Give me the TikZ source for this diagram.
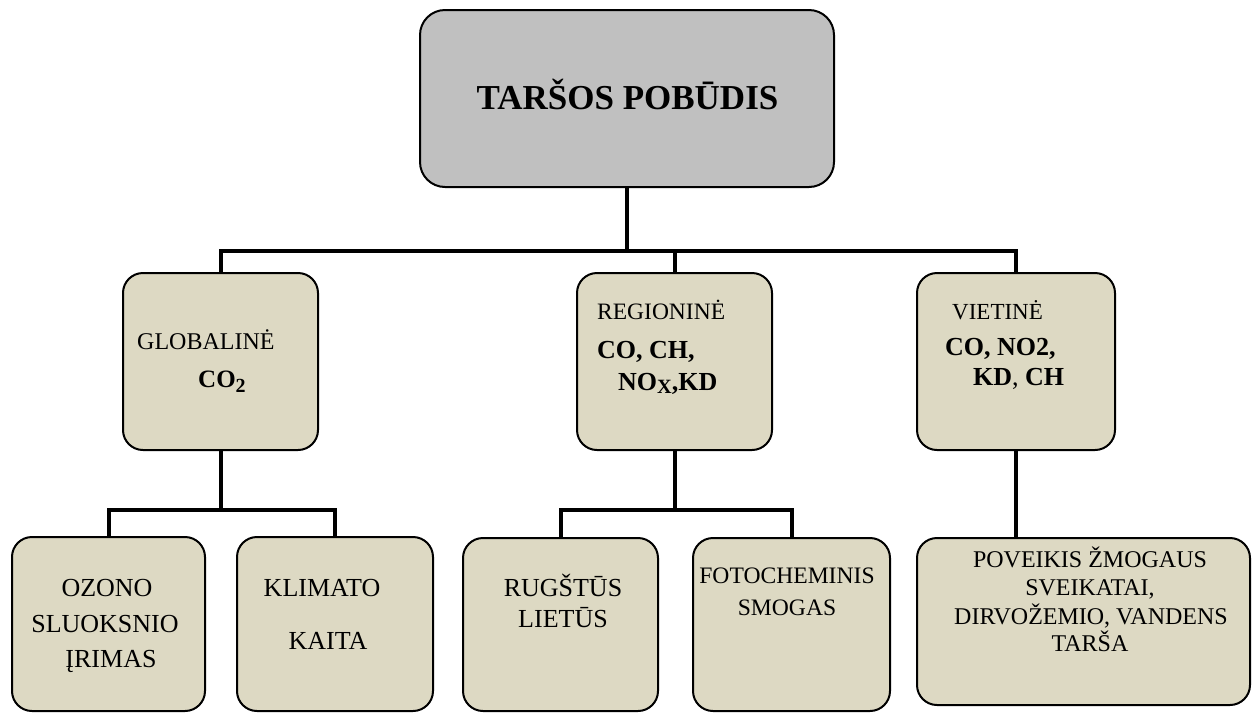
\documentclass[tikz,border=0pt]{standalone}
\usepackage{fontspec}
\setmainfont{Liberation Serif}
\usepackage{graphicx}
\definecolor{boxgray}{HTML}{C0C0C0}
\definecolor{boxtan}{HTML}{DDD9C3}
\tikzset{
  box/.style={draw=black, line width=2pt, rounded corners=20pt, inner sep=0pt, fill=boxtan},
  conn/.style={draw=black, line width=4pt, line join=miter},
  lbl/.style={inner sep=0pt, anchor=base},
  lblw/.style={inner sep=0pt, anchor=base west},
}
\begin{document}
\begin{tikzpicture}[x=1pt,y=-1pt]
\useasboundingbox (0,0) rectangle (1256,713);
% boxes
\node[box, fill=boxgray, rounded corners=25pt, minimum width=414pt, minimum height=177pt] (top) at (627,98.5) {};
\node[box, minimum width=195pt, minimum height=177pt] (g) at (220.5,361.5) {};
\node[box, minimum width=195pt, minimum height=177pt] (r) at (674.5,361.5) {};
\node[box, minimum width=198pt, minimum height=177pt] (v) at (1016,361.5) {};
\node[box, minimum width=193pt, minimum height=174pt] (oz) at (108.5,624) {};
\node[box, minimum width=196pt, minimum height=174pt] (kl) at (335,624) {};
\node[box, minimum width=195pt, minimum height=173pt] (ru) at (560.5,624.5) {};
\node[box, minimum width=197pt, minimum height=173pt] (fo) at (791.5,624.5) {};
\node[box, minimum width=333pt, minimum height=167pt] (po) at (1083.5,621.5) {};
% connectors
\coordinate (bus) at (627,251);
\coordinate (busg) at (0,510);
\draw[conn] (top.south) -- (top.south |- bus);
\draw[conn] (g.north) -- (g.north |- bus) -- (v.north |- bus) -- (v.north);
\draw[conn] (r.north) -- (r.north |- bus);
\draw[conn] (g.south) -- (g.south |- busg);
\draw[conn] (oz.north) -- (oz.north |- busg) -- (kl.north |- busg) -- (kl.north);
\draw[conn] (r.south) -- (r.south |- busg);
\draw[conn] (ru.north) -- (ru.north |- busg) -- (fo.north |- busg) -- (fo.north);
\draw[conn] (v.south) -- (v.south |- po.north);
% texts
\node[lbl, font=\fontsize{35}{40}\selectfont\bfseries] (ttop) at (627.5,109) {TARŠOS POBŪDIS};
\node[lblw, font=\fontsize{24}{28}\selectfont] (tg1) at (137,349) {GLOBALINĖ};
\node[lblw, font=\fontsize{25}{28}\selectfont\bfseries] (tg2) at (198,387) {CO\raisebox{-0.22em}{\scalebox{0.8}{2}}};
\node[lblw, font=\fontsize{23.5}{28}\selectfont] (tr1) at (597,319) {REGIONINĖ};
\node[lblw, font=\fontsize{26}{30}\selectfont\bfseries] (tr2) at (597,358) {CO, CH,};
\node[lblw, font=\fontsize{26}{30}\selectfont\bfseries] (tr3) at (618,390) {NO\raisebox{-0.12em}{\scalebox{0.78}{X}},KD};
\node[lblw, font=\fontsize{23}{28}\selectfont] (tv1) at (952,319) {VIETINĖ};
\node[lblw, font=\fontsize{26}{30}\selectfont\bfseries] (tv2) at (945,355) {CO, NO2,};
\node[lblw, font=\fontsize{26}{30}\selectfont\bfseries] (tv3) at (973,385) {KD\mdseries, \bfseries CH};
\node[lbl, font=\fontsize{26}{30}\selectfont] (to1) at (107,596) {OZONO};
\node[lbl, font=\fontsize{26}{30}\selectfont] (to2) at (105,632) {SLUOKSNIO};
\node[lbl, font=\fontsize{26}{30}\selectfont] (to3) at (111,667) {ĮRIMAS};
\node[lbl, font=\fontsize{26}{30}\selectfont] (tk1) at (322,596) {KLIMATO};
\node[lbl, font=\fontsize{26}{30}\selectfont] (tk2) at (328,649) {KAITA};
\node[lbl, font=\fontsize{26}{30}\selectfont] (tu1) at (563,596) {RUGŠTŪS};
\node[lbl, font=\fontsize{26}{30}\selectfont] (tu2) at (563,627) {LIETŪS};
\node[lbl, font=\fontsize{23.6}{28}\selectfont] (tf1) at (787,583) {FOTOCHEMINIS};
\node[lbl, font=\fontsize{23.6}{28}\selectfont] (tf2) at (787,615) {SMOGAS};
\node[lbl, font=\fontsize{24}{28}\selectfont] (tp1) at (1090,567) {POVEIKIS ŽMOGAUS};
\node[lbl, font=\fontsize{24}{28}\selectfont] (tp2) at (1090,595) {SVEIKATAI,};
\node[lbl, font=\fontsize{24}{28}\selectfont] (tp3) at (1091,624) {DIRVOŽEMIO, VANDENS};
\node[lbl, font=\fontsize{24}{28}\selectfont] (tp4) at (1090,651) {TARŠA};
\end{tikzpicture}
\end{document}
